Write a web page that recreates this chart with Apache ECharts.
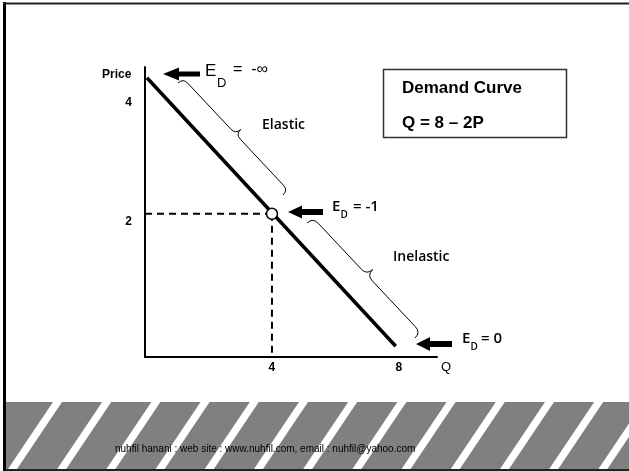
<!DOCTYPE html>
<html>
<head>
<meta charset="utf-8">
<script src="https://cdn.jsdelivr.net/npm/echarts@6/dist/echarts.min.js"></script>
<style>
  html, body { margin: 0; padding: 0; background: #fff; }
  #chart { width: 629px; height: 471px; }
</style>
</head>
<body>
<div id="chart"></div>
<script>
// demand curve Q = 8 - 2P, as drawn (line stops a little short of the axes)
var demandQ = [0.06, 7.9]
var demandP = [3.9, 0.15]
// unit elastic point
var unitQ = 4
var unitP = 2
// tick labels
var xTicks = [4, 8]
var yTicks = [2, 4]

var BLACK = '#000'
var SANS = '"Liberation Sans", Arial, sans-serif'
var HUMAN = '"Open Sans", "DejaVu Sans", sans-serif'

function txt (x, y, text, size, weight, family) {
  return {
    type: 'text', x: x, y: y, z: 20,
    style: {
      text: text, fontSize: size, fontWeight: weight || 'normal',
      fontFamily: family || SANS, fill: BLACK,
      align: 'left', verticalAlign: 'middle',
      textAlign: 'left', textVerticalAlign: 'middle'
    }
  }
}

// thick left pointing arrow
function arrow (tip, y, tail, headLen, headH, shaftH) {
  var b = tip + headLen
  return {
    type: 'polygon', z: 20,
    shape: { points: [[tip, y], [b, y - headH / 2], [b, y - shaftH / 2], [tail, y - shaftH / 2],
      [tail, y + shaftH / 2], [b, y + shaftH / 2], [b, y + headH / 2]] },
    style: { fill: BLACK }
  }
}

// curly brace from (x1,y1) to (x2,y2), bulging up-right of the direction
function brace (x1, y1, x2, y2, r) {
  var dx = x2 - x1, dy = y2 - y1
  var L = Math.sqrt(dx * dx + dy * dy), h = L / 2
  var ex = dx / L, ey = dy / L
  var nx = dy / L, ny = -dx / L
  function p (u, v) { return [x1 + u * ex + v * nx, y1 + u * ey + v * ny] }
  var st = { fill: null, stroke: BLACK, lineWidth: 1 }
  function curve (a, c, b) {
    var A = p(a[0], a[1]), C = p(c[0], c[1]), B = p(b[0], b[1])
    return { type: 'bezierCurve', z: 20, shape: { x1: A[0], y1: A[1], x2: B[0], y2: B[1], cpx1: C[0], cpy1: C[1] }, style: st }
  }
  function seg (a, b) {
    var A = p(a[0], a[1]), B = p(b[0], b[1])
    return { type: 'line', z: 20, shape: { x1: A[0], y1: A[1], x2: B[0], y2: B[1] }, style: st }
  }
  return [
    curve([0, 0], [0, r], [r, r]),
    seg([r, r], [h - r, r]),
    curve([h - r, r], [h, r], [h, 2 * r]),
    curve([h, 2 * r], [h, r], [h + r, r]),
    seg([h + r, r], [L - r, r]),
    curve([L - r, r], [L, r], [L, 0])
  ]
}

var graphics = []

// footer band with white stripes
graphics.push({ type: 'rect', z: 1, shape: { x: 6, y: 402, width: 623, height: 67 }, style: { fill: '#808080' } })
for (var k = 0; k < 13; k++) {
  var x0 = 53 + 49.2 * k
  graphics.push({
    type: 'polygon', z: 2,
    shape: { points: [[x0, 402], [x0 + 9, 402], [x0 + 9 - 45, 469], [x0 - 45, 469]] },
    style: { fill: '#fff' }
  })
}
graphics.push({ type: 'rect', z: 3, shape: { x: 0, y: 402, width: 6, height: 69 }, style: { fill: '#fff' } })
graphics.push(txt(115, 449, 'nuhfil hanani : web site : www.nuhfil.com, email : nuhfil@yahoo.com', 10))
graphics.push({ type: 'line', z: 4, shape: { x1: 3, y1: 470, x2: 629, y2: 470 }, style: { stroke: '#222', lineWidth: 2 } })

// slide frame
graphics.push({ type: 'line', z: 4, shape: { x1: 4.5, y1: 2, x2: 4.5, y2: 471 }, style: { stroke: BLACK, lineWidth: 3 } })
graphics.push({ type: 'line', z: 4, shape: { x1: 3, y1: 3.5, x2: 629, y2: 3.5 }, style: { stroke: '#222', lineWidth: 2 } })

// title box
graphics.push({ type: 'rect', z: 10, shape: { x: 383.5, y: 69.5, width: 183, height: 68 }, style: { fill: '#fff', stroke: '#333', lineWidth: 1.5 } })
graphics.push(txt(402, 88, 'Demand Curve', 17, 'bold'))
graphics.push(txt(402, 123, 'Q = 8 \u2013 2P', 17, 'bold'))

// price label
graphics.push(txt(102, 75, 'Price', 12, 'bold'))

// E_D = -infinity
graphics.push(arrow(163, 74, 200, 16, 13, 5))
graphics.push(txt(205, 71, 'E', 17))
graphics.push(txt(217, 83, 'D', 13))
graphics.push(txt(233, 70, '=  -\u221e', 16))

// E_D = -1
graphics.push(arrow(288, 212, 323, 14, 13, 6))
graphics.push(txt(332, 206.5, 'E', 15, 600, HUMAN))
graphics.push(txt(340.5, 215, 'D', 10, 600, HUMAN))
graphics.push(txt(353, 207, '= -1', 15, 600, HUMAN))

// E_D = 0
graphics.push(arrow(416, 344, 452, 14, 14, 6))
graphics.push(txt(462, 338.5, 'E', 15, 600, HUMAN))
graphics.push(txt(470.5, 347, 'D', 10, 600, HUMAN))
graphics.push(txt(481, 339, '= 0', 15, 600, HUMAN))

// braces and region labels
graphics = graphics.concat(brace(178, 83, 283, 195, 7))
graphics.push(txt(262, 125, 'Elastic', 14, 600, HUMAN))
graphics = graphics.concat(brace(307, 223, 415, 338, 8))
graphics.push(txt(393, 257, 'Inelastic', 14, 600, HUMAN))

var demandData = demandQ.map(function (q, i) { return [q, demandP[i]] })

var chart = echarts.init(document.getElementById('chart'))
var option = {
  animation: false,
  backgroundColor: '#fff',
  grid: { left: 145, right: 192, top: 67, bottom: 114 },
  xAxis: {
    type: 'value', min: 0, max: 9.2, interval: 4,
    name: 'Q', nameLocation: 'end', nameGap: 4,
    nameTextStyle: { color: BLACK, fontSize: 13, fontFamily: SANS, verticalAlign: 'top', padding: [4, 0, 0, 0] },
    axisLine: { lineStyle: { color: BLACK, width: 2 } },
    axisTick: { show: false },
    splitLine: { show: false },
    axisLabel: {
      color: BLACK, fontSize: 12, fontWeight: 'bold', fontFamily: SANS, margin: 5,
      showMaxLabel: false,
      formatter: function (v) { return xTicks.indexOf(v) >= 0 ? String(v) : '' }
    }
  },
  yAxis: {
    type: 'value', min: 0, max: 4.05, interval: 2,
    axisLine: { show: true, lineStyle: { color: BLACK, width: 2 } },
    axisTick: { show: false },
    splitLine: { show: false },
    axisLabel: {
      margin: 13, showMaxLabel: false,
      formatter: function (v) {
        if (yTicks.indexOf(v) < 0) return ''
        return v === 4 ? '{a|4}' : '{b|2}'
      },
      rich: {
        a: { color: BLACK, fontSize: 12, fontWeight: 'bold', fontFamily: SANS, padding: [64, 0, 0, 0] },
        b: { color: BLACK, fontSize: 12, fontWeight: 'bold', fontFamily: SANS, padding: [16, 0, 0, 0] }
      }
    }
  },
  series: [
    {
      name: 'demand', type: 'line', data: demandData, symbol: 'none', z: 3,
      lineStyle: { color: BLACK, width: 3.5 }
    },
    {
      name: 'price guide', type: 'line', data: [[0, unitP], [unitQ, unitP]], symbol: 'none', z: 2,
      lineStyle: { color: BLACK, width: 2, type: [7, 5] }
    },
    {
      name: 'quantity guide', type: 'line', data: [[unitQ, unitP], [unitQ, 0]], symbol: 'none', z: 2,
      lineStyle: { color: BLACK, width: 2, type: [7, 5] }
    },
    {
      name: 'unit elastic', type: 'scatter', data: [[unitQ, unitP]], symbol: 'circle', symbolSize: 11, z: 5,
      itemStyle: { color: '#fff', borderColor: BLACK, borderWidth: 1.5, opacity: 1 }
    }
  ],
  graphic: graphics
}
chart.setOption(option)
</script>
</body>
</html>
